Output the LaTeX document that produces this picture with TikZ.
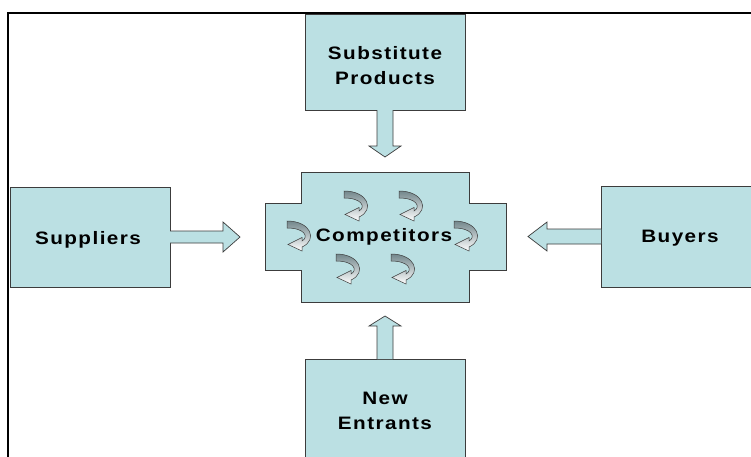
\documentclass[tikz,border=0pt]{standalone}
\usepackage{fontspec}
\setmainfont{Liberation Sans}
\newfontfamily\lblfont{Liberation Sans}[FakeStretch=1.15,LetterSpace=8]
\usetikzlibrary{calc}
\definecolor{boxfill}{RGB}{187,224,227}
\definecolor{edgec}{RGB}{60,60,60}
\definecolor{ribbon}{RGB}{115,135,140}
\begin{document}
\begin{tikzpicture}[x=1pt,y=-1pt,
  box/.style={draw=edgec,line width=0.8pt,fill=boxfill,inner sep=0pt,outer sep=0pt},
  lbl/.style={font=\lblfont\bfseries\fontsize{18}{25}\selectfont,align=center,text=black,inner sep=0pt},
  blockarrow/.style={draw=edgec,line width=0.7pt,fill=boxfill,line join=miter},
  curl/.pic={
    \path[draw=edgec,line width=0.5pt,top color=ribbon,bottom color=white]
      (0,0) .. controls (24,0) and (31,19) .. (15,26) -- (15,30) -- (1,23.5)
      -- (15,16.5) -- (15,20) .. controls (22,16) and (18,7) .. (0,7) -- cycle;
  }]
\clip (0,0) rectangle (751,456);
\fill[white] (0,0) rectangle (751,456);

% boxes
\node[box,minimum width=160,minimum height=96] (sub) at (385,62) {};
\node[box,minimum width=160,minimum height=100] (sup) at (90,237) {};
\node[box,minimum width=169,minimum height=101] (buy) at (685.5,236.5) {};
\node[box,minimum width=160,minimum height=111] (new) at (385,414.5) {};

% competitors cross shape
\draw[draw=edgec,line width=0.8pt,fill=boxfill]
  (301,172) -- (469,172) -- (469,203) -- (506,203) -- (506,270) -- (469,270)
  -- (469,302) -- (301,302) -- (301,270) -- (265,270) -- (265,203) -- (301,203) -- cycle;
\coordinate (comp) at (385,237);

% labels
\node[lbl] (subt) at (385,66) {Substitute\\Products};
\node[lbl] (supt) at (88,240) {Suppliers};
\node[lbl] (buyt) at (680,238) {Buyers};
\node[lbl] (newt) at (385,411) {New\\Entrants};
\node[lbl] (compt) at (384,237) {Competitors};

% block arrows
\draw[blockarrow] ($(sub.south)+(-8,0)$) -- ($(sub.south)+(-8,36)$) -- ($(sub.south)+(-16,36)$)
  -- ($(sub.south)+(0,47)$) -- ($(sub.south)+(16,36)$) -- ($(sub.south)+(8,36)$) -- ($(sub.south)+(8,0)$);
\draw[blockarrow] ($(new.north)+(-8,0)$) -- ($(new.north)+(-8,-33)$) -- ($(new.north)+(-16,-33)$)
  -- ($(new.north)+(0,-43)$) -- ($(new.north)+(16,-33)$) -- ($(new.north)+(8,-33)$) -- ($(new.north)+(8,0)$);
\draw[blockarrow] ($(sup.east)+(0,-6)$) -- ($(sup.east)+(53,-6)$) -- ($(sup.east)+(53,-15)$)
  -- ($(sup.east)+(70,0)$) -- ($(sup.east)+(53,15)$) -- ($(sup.east)+(53,6)$) -- ($(sup.east)+(0,6)$);
\draw[blockarrow] ($(buy.west)+(0,-7.5)$) -- ($(buy.west)+(-54,-7.5)$) -- ($(buy.west)+(-54,-14.5)$)
  -- ($(buy.west)+(-73,0)$) -- ($(buy.west)+(-54,14.5)$) -- ($(buy.west)+(-54,7.5)$) -- ($(buy.west)+(0,7.5)$);

% curl arrows
\pic at (344,191) {curl};
\pic at (399,191) {curl};
\pic at (287,221) {curl};
\pic at (454,221) {curl};
\pic at (336,254) {curl};
\pic at (391,254) {curl};

% frame
\draw[black,line width=2pt] (8,470) -- (8,13) -- (770,13);
\end{tikzpicture}
\end{document}
